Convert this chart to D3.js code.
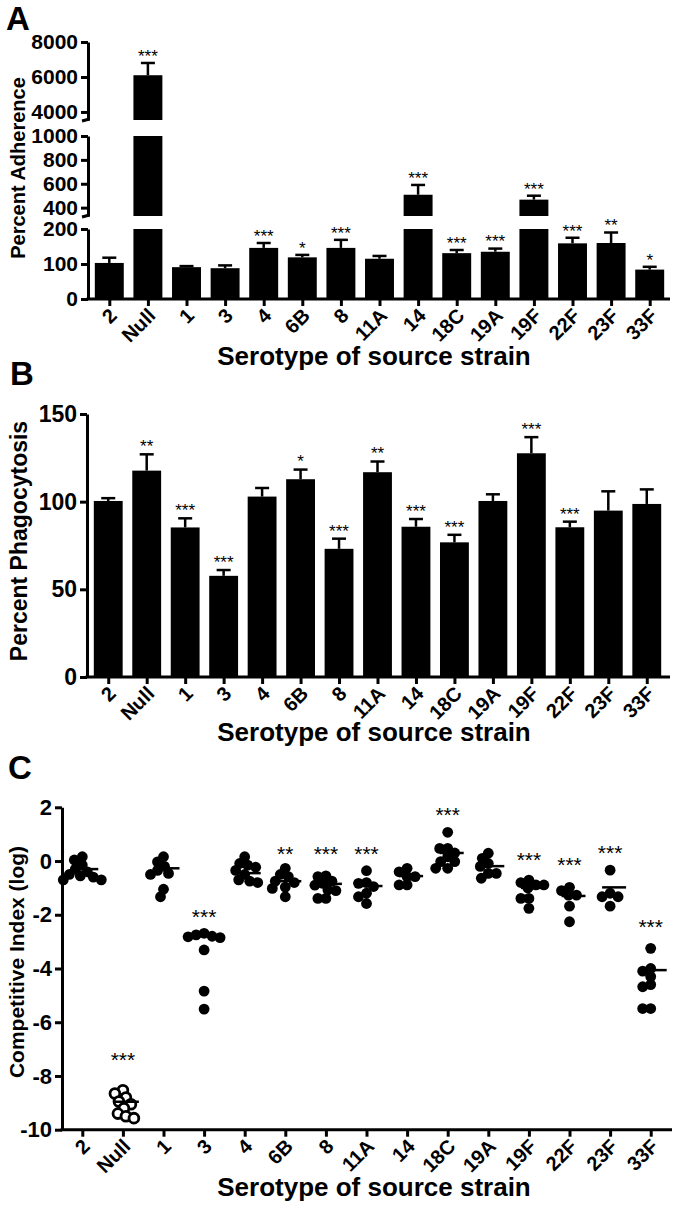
<!DOCTYPE html>
<html><head><meta charset="utf-8">
<script src="https://cdn.jsdelivr.net/npm/d3@7"></script>
<style>
body{margin:0;background:#fff}
svg{display:block}
text{font-family:"Liberation Sans",Arial,Helvetica,sans-serif;fill:#000}
</style>
</head><body>
<svg id="chart" width="675" height="1212"></svg>
<script>
// ---------------- DATA ----------------
const categories = ["2","Null","1","3","4","6B","8","11A","14","18C","19A","19F","22F","23F","33F"];

// Panel A: percent adherence (mean, SEM, significance)
const adherenceMean = [103, 6100, 91, 88, 146, 119, 146, 115, 508, 131, 135, 467, 159, 160, 84];
const adherenceSem  = [15, 700, 3, 8, 14, 7, 23, 8, 82, 9, 9, 33, 16, 30, 8];
const adherenceSig  = ["","***","","","***","*","***","","***","***","***","***","***","**","*"];
const adherenceTicksLow  = [0, 100, 200];
const adherenceTicksMid  = [400, 600, 800, 1000];
const adherenceTicksHigh = [4000, 6000, 8000];

// Panel B: percent phagocytosis
const phagoMean = [100.4, 117.7, 85.3, 57.7, 102.9, 112.8, 73.1, 116.8, 85.7, 76.8, 100.4, 127.6, 85.4, 94.9, 98.7];
const phagoSem  = [1.6, 9.3, 5.2, 3.3, 4.9, 5.5, 5.8, 6.1, 4.4, 4.3, 3.8, 9.2, 3.2, 11, 8.3];
const phagoSig  = ["","**","***","***","","*","***","**","***","***","","***","***","",""];
const phagoTicks = [0, 50, 100, 150];

// Panel C: competitive index (log), individual animals
const ciValues = [
  [0.16, 0.04, -0.15, -0.3, -0.4, -0.5, -0.55, -0.6, -0.7, -0.7],
  [-8.53, -8.65, -8.8, -8.95, -9.05, -9.2, -9.4, -9.5, -9.57],
  [0.16, -0.03, -0.2, -0.35, -0.46, -0.5, -1.05, -1.33],
  [-2.69, -2.75, -2.8, -2.82, -2.85, -3.31, -4.84, -5.51],
  [0.16, -0.09, -0.15, -0.23, -0.35, -0.5, -0.7, -0.75, -0.8],
  [-0.27, -0.5, -0.58, -0.75, -0.8, -0.97, -1.02, -1.33],
  [-0.55, -0.58, -0.75, -0.83, -0.9, -1.08, -1.1, -1.39, -1.39],
  [-0.36, -0.8, -0.83, -0.95, -1.2, -1.33, -1.58],
  [-0.27, -0.4, -0.58, -0.58, -0.89, -0.89],
  [1.07, 0.47, 0.47, 0.3, 0.16, -0.02, -0.02, -0.27, -0.27],
  [0.29, 0.1, -0.09, -0.2, -0.46, -0.46, -0.64],
  [-0.71, -0.8, -0.89, -0.89, -1.0, -1.39, -1.39, -1.76],
  [-0.98, -1.1, -1.27, -1.27, -1.68, -2.26],
  [-0.34, -1.2, -1.33, -1.33, -1.68],
  [-3.25, -4.0, -4.1, -4.3, -4.6, -4.68, -5.49, -5.49]
];
const ciCenter = [-0.3, -8.96, -0.27, -2.8, -0.45, -0.75, -0.85, -0.93, -0.56, 0.3, -0.19, -1.0, -1.3, -0.98, -4.06];
const ciSig = ["","***","","***","","**","***","***","","***","","***","***","***","***"];
const ciSigLevel = [null, -7.22, null, -1.89, null, 0.44, 0.47, 0.47, null, 1.9, null, 0.22, 0.04, 0.51, -2.26];
const ciOpen = [false, true, false, false, false, false, false, false, false, false, false, false, false, false, false];
const ciTicks = [-10, -8, -6, -4, -2, 0, 2];

// ---------------- DRAW ----------------
const svg = d3.select("#chart");
const AXW = 3;
const XLAB = 20;

function styleAxis(g, fs) {
  g.selectAll("path.domain").attr("stroke", "#000").attr("stroke-width", AXW);
  g.selectAll(".tick line").attr("stroke", "#000").attr("stroke-width", AXW);
  g.selectAll(".tick text").attr("font-size", fs).attr("font-weight", "bold")
    .style("font-family", '"Liberation Sans", Arial, sans-serif').attr("fill", "#000");
}

function xAxisRotated(g, x, y0, fs) {
  const ax = g.append("g").attr("transform", `translate(0,${y0})`)
    .call(d3.axisBottom(x).tickSize(7).tickSizeOuter(0).tickFormat(""));
  ax.select("path.domain").remove();
  styleAxis(ax, fs);
  g.append("g").selectAll("text").data(categories).join("text")
    .attr("transform", d => `translate(${x(d) - 1},${y0 + 8}) rotate(-45)`)
    .attr("text-anchor", "end").attr("dy", "0.7em")
    .attr("font-size", fs).attr("font-weight", "bold").text(d => d);
}

function starText(g, x, yc, label, fs) {
  g.append("text").attr("x", x).attr("y", yc + fs * 0.58)
    .attr("text-anchor", "middle").attr("font-size", fs).text(label);
}

function panelLetter(letter, x, y) {
  svg.append("text").attr("x", x).attr("y", y).attr("font-size", 33)
    .attr("font-weight", "bold").text(letter);
}

function yTitle(label, cx, cy, fs) {
  svg.append("text").attr("transform", `translate(${cx},${cy}) rotate(-90)`)
    .attr("text-anchor", "middle").attr("dy", "0.35em")
    .attr("font-size", fs).attr("font-weight", "bold").text(label);
}

function xTitle(cx, y, fs) {
  svg.append("text").attr("x", cx).attr("y", y).attr("text-anchor", "middle")
    .attr("font-size", fs).attr("font-weight", "bold").text("Serotype of source strain");
}

const fmt = d3.format("d");

// ===== Panel A =====
(function () {
  const g = svg.append("g");
  const left = 88, right = 670, base = 299;
  const x = d3.scalePoint().domain(categories).range([90, 669]).padding(0.5);
  const bw = x.step() * 0.75;
  const segs = [
    { scale: d3.scaleLinear().domain([0, 200]).range([base, 229]), ticks: adherenceTicksLow, brk: false },
    { scale: d3.scaleLinear().domain([330, 1000]).range([216, 136]), ticks: adherenceTicksMid, brk: true },
    { scale: d3.scaleLinear().domain([3540, 8000]).range([120, 42]), ticks: adherenceTicksHigh, brk: true }
  ];
  segs.forEach(s => {
    const [d0, d1] = s.scale.domain();
    categories.forEach((c, i) => {
      const v = adherenceMean[i];
      if (v <= d0) return;
      const yTop = s.scale(Math.min(v, d1)), yBot = s.scale(d0);
      g.append("rect").attr("x", x(c) - bw / 2).attr("y", yTop)
        .attr("width", bw).attr("height", yBot - yTop).attr("fill", "#000");
    });
  });
  categories.forEach((c, i) => {
    const m = adherenceMean[i], e = m + adherenceSem[i];
    const s = segs.find(s => e >= s.scale.domain()[0] && e <= s.scale.domain()[1]) || segs[2];
    const y1 = s.scale(m), y2 = s.scale(e);
    g.append("line").attr("x1", x(c)).attr("x2", x(c)).attr("y1", y1).attr("y2", y2)
      .attr("stroke", "#000").attr("stroke-width", 2.5);
    g.append("line").attr("x1", x(c) - 7).attr("x2", x(c) + 7).attr("y1", y2).attr("y2", y2)
      .attr("stroke", "#000").attr("stroke-width", 2.5);
    if (adherenceSig[i]) starText(g, x(c), y2 - 11, adherenceSig[i], 17);
  });
  segs.forEach(s => {
    const a = g.append("g").attr("transform", `translate(${left},0)`)
      .call(d3.axisLeft(s.scale).tickValues(s.ticks).tickSize(7).tickSizeOuter(0).tickPadding(3).tickFormat(fmt));
    styleAxis(a, 21);
    if (s.brk) {
      const yb = s.scale.range()[0];
      g.append("line").attr("x1", left - 6).attr("x2", left + 1.5).attr("y1", yb + 1).attr("y2", yb - 1)
        .attr("stroke", "#000").attr("stroke-width", AXW);
    }
  });
  g.append("line").attr("x1", left - 1.5).attr("x2", right).attr("y1", base).attr("y2", base)
    .attr("stroke", "#000").attr("stroke-width", AXW);
  xAxisRotated(g, x, base, XLAB);
})();

// ===== Panel B =====
(function () {
  const g = svg.append("g");
  const left = 87, right = 670, base = 677;
  const x = d3.scalePoint().domain(categories).range([89, 666]).padding(0.5);
  const bw = x.step() * 0.75;
  const y = d3.scaleLinear().domain([0, 150]).range([base, 414]);
  categories.forEach((c, i) => {
    const m = phagoMean[i], e = m + phagoSem[i];
    g.append("rect").attr("x", x(c) - bw / 2).attr("y", y(m)).attr("width", bw)
      .attr("height", y(0) - y(m)).attr("fill", "#000");
    g.append("line").attr("x1", x(c)).attr("x2", x(c)).attr("y1", y(m)).attr("y2", y(e))
      .attr("stroke", "#000").attr("stroke-width", 2.5);
    g.append("line").attr("x1", x(c) - 7).attr("x2", x(c) + 7).attr("y1", y(e)).attr("y2", y(e))
      .attr("stroke", "#000").attr("stroke-width", 2.5);
    if (phagoSig[i]) starText(g, x(c), y(e) - 12, phagoSig[i], 17);
  });
  const a = g.append("g").attr("transform", `translate(${left},0)`)
    .call(d3.axisLeft(y).tickValues(phagoTicks).tickSize(7).tickSizeOuter(0).tickPadding(3).tickFormat(fmt));
  styleAxis(a, 23);
  g.append("line").attr("x1", left - 1.5).attr("x2", right).attr("y1", base).attr("y2", base)
    .attr("stroke", "#000").attr("stroke-width", AXW);
  xAxisRotated(g, x, base, XLAB);
})();

// ===== Panel C =====
(function () {
  const g = svg.append("g");
  const left = 62, right = 672, base = 1129.7;
  const x = d3.scalePoint().domain(categories).range([62, 671]).padding(0.5);
  const y = d3.scaleLinear().domain([-10, 2]).range([base, 807.3]);
  const r = 5.4;
  const minD = r * 1.45;
  categories.forEach((c, i) => {
    const placed = [];
    const vals = ciValues[i].slice().sort((a, b) => b - a);
    vals.forEach(v => {
      const py = y(v);
      let best = 0;
      for (let k = 0; k < 80; k++) {
        const off = (k % 2 === 0 ? 1 : -1) * Math.ceil(k / 2);
        if (placed.every(p => Math.hypot(p.x - off, p.y - py) >= minD)) { best = off; break; }
      }
      placed.push({ x: best, y: py });
    });
    placed.forEach(p => {
      g.append("circle").attr("cx", x(c) + p.x).attr("cy", p.y).attr("r", ciOpen[i] ? r - 0.5 : r)
        .attr("fill", ciOpen[i] ? "#fff" : "#000").attr("stroke", "#000")
        .attr("stroke-width", ciOpen[i] ? 2.8 : 0);
    });
    g.append("line").attr("x1", x(c) - 8).attr("x2", x(c) + 16)
      .attr("y1", y(ciCenter[i])).attr("y2", y(ciCenter[i]))
      .attr("stroke", "#000").attr("stroke-width", 2.5);
    if (ciSig[i]) starText(g, x(c), y(ciSigLevel[i]), ciSig[i], 21);
  });
  const a = g.append("g").attr("transform", `translate(${left},0)`)
    .call(d3.axisLeft(y).tickValues(ciTicks).tickSize(7).tickSizeOuter(0).tickPadding(3)
      .tickFormat(d => d < 0 ? "-" + Math.abs(d) : String(d)));
  styleAxis(a, 22);
  g.append("line").attr("x1", left - 1.5).attr("x2", right).attr("y1", base).attr("y2", base)
    .attr("stroke", "#000").attr("stroke-width", AXW);
  xAxisRotated(g, x, base, XLAB);
})();

// ===== Titles =====
panelLetter("A", 6, 30);
panelLetter("B", 10, 385);
panelLetter("C", 8, 779);
yTitle("Percent Adherence", 18, 168, 20);
yTitle("Percent Phagocytosis", 19, 541, 23);
yTitle("Competitive Index (log)", 17, 962, 21);
xTitle(374, 365, 26);
xTitle(374, 741, 26);
xTitle(374, 1196, 26);
</script>
</body></html>
